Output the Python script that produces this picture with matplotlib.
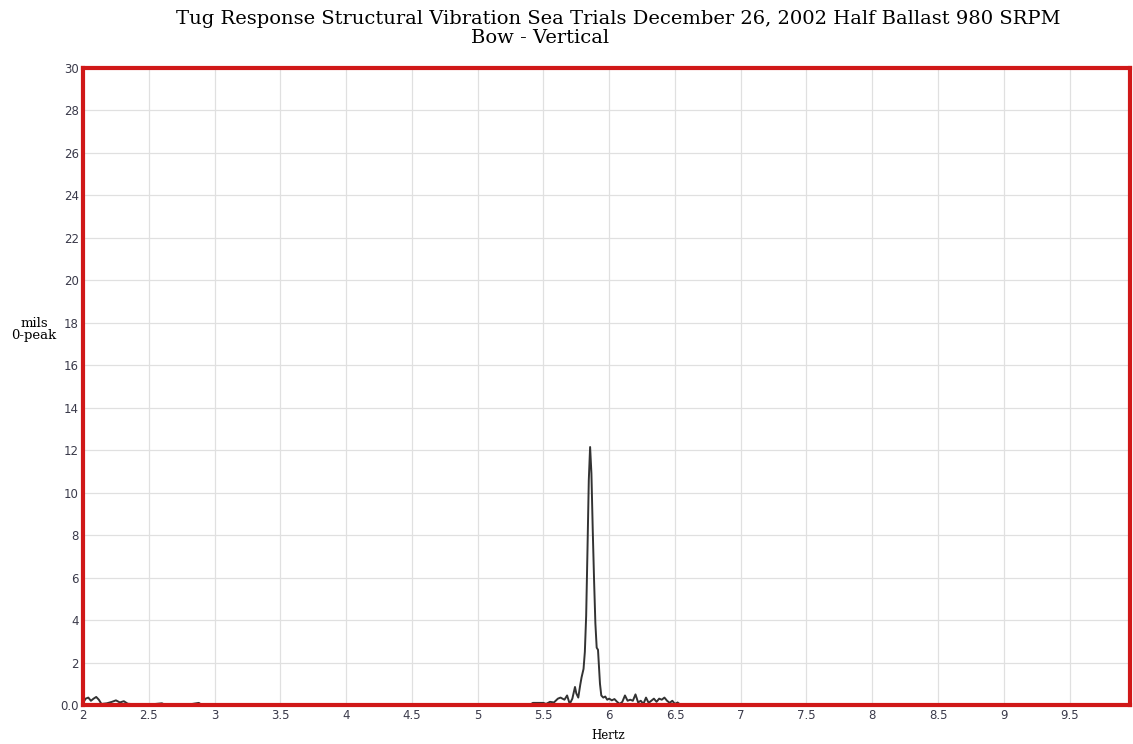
import matplotlib.pyplot as plt
import numpy as np

# Bow vertical response spectrum
hertz = [2.00, 2.02, 2.04, 2.06, 2.08, 2.10, 2.12, 2.14, 2.18, 2.22, 2.25, 2.28,
         2.31, 2.34, 2.40, 2.45, 2.50, 2.60, 2.62, 2.80, 2.88, 2.90, 3.50, 4.50,
         5.40, 5.42, 5.50, 5.52, 5.55, 5.58, 5.61, 5.63, 5.66, 5.68, 5.70, 5.72,
         5.74, 5.75, 5.765, 5.78, 5.79, 5.805, 5.815, 5.825, 5.835, 5.845, 5.855,
         5.865, 5.875, 5.885, 5.895, 5.905, 5.915, 5.93, 5.94, 5.955, 5.97, 5.985,
         6.00, 6.02, 6.04, 6.06, 6.08, 6.10, 6.12, 6.14, 6.16, 6.18, 6.20, 6.22,
         6.24, 6.26, 6.28, 6.30, 6.32, 6.34, 6.36, 6.38, 6.40, 6.42, 6.44, 6.46,
         6.48, 6.50, 6.52, 6.54]
mils = [0.10, 0.30, 0.35, 0.20, 0.30, 0.38, 0.25, 0.05, 0.08, 0.15, 0.22, 0.12,
        0.18, 0.06, 0.03, 0.05, 0.02, 0.08, 0.02, 0.02, 0.10, 0.02, 0.01, 0.01,
        0.02, 0.10, 0.10, 0.05, 0.15, 0.12, 0.30, 0.35, 0.25, 0.45, 0.05, 0.30,
        0.85, 0.55, 0.35, 0.95, 1.30, 1.70, 2.50, 4.20, 7.30, 10.6, 12.15,
        10.9, 8.25, 5.90, 3.85, 2.70, 2.60, 1.00, 0.45, 0.35, 0.40, 0.25,
        0.30, 0.22, 0.28, 0.15, 0.05, 0.15, 0.45, 0.20, 0.25, 0.20, 0.50, 0.12,
        0.20, 0.05, 0.35, 0.10, 0.20, 0.30, 0.15, 0.30, 0.25, 0.35, 0.20, 0.10,
        0.20, 0.05, 0.12, 0.02]

x_ticks = np.arange(2, 10, 0.5)
x_labels = ["2", "2.5", "3", "3.5", "4", "4.5", "5", "5.5", "6", "6.5",
            "7", "7.5", "8", "8.5", "9", "9.5"]
y_ticks = np.arange(0, 31, 2)
y_labels = ["0.0"] + [str(v) for v in range(2, 31, 2)]

fig = plt.figure(figsize=(11.33, 7.44), dpi=100)
ax = fig.add_axes([0.0733, 0.0524, 0.9241, 0.8562])

ax.plot(hertz, mils, color="#333333", linewidth=1.4)

ax.set_xlim(2, 9.96)
ax.set_ylim(0, 30)
ax.set_xticks(x_ticks)
ax.set_xticklabels(x_labels)
ax.set_yticks(y_ticks)
ax.set_yticklabels(y_labels)
ax.tick_params(length=0, pad=3, labelsize=8.5, labelcolor="#3a3a4a")
ax.grid(True, color="#e0e0e0", linewidth=0.9)

for s in ax.spines.values():
    s.set_color("#d01818")
    s.set_linewidth(3)

fig.text(0.546, 0.975, "Tug Response Structural Vibration Sea Trials December 26, 2002 Half Ballast 980 SRPM",
         ha="center", va="center", family="DejaVu Serif", fontsize=14)
fig.text(0.4766, 0.949, "Bow - Vertical", ha="center", va="center",
         family="DejaVu Serif", fontsize=14)
fig.text(0.03, 0.557, "mils\n0-peak", ha="center", va="center",
         family="DejaVu Serif", fontsize=9.5, linespacing=0.9)
fig.text(0.537, 0.012, "Hertz", ha="center", va="center",
         family="DejaVu Serif", fontsize=8.5)

fig.savefig("out.png", dpi=100)
